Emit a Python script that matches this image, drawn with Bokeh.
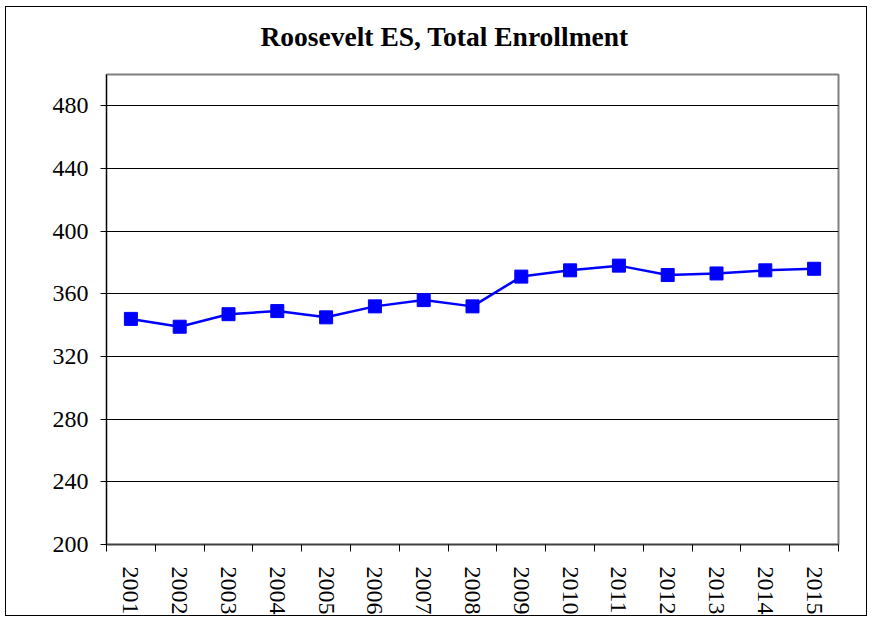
from bokeh.plotting import figure
from bokeh.models import FixedTicker, Range1d, Title
from bokeh.embed import file_html
from bokeh.resources import INLINE

years = [2001, 2002, 2003, 2004, 2005, 2006, 2007, 2008, 2009, 2010, 2011, 2012, 2013, 2014, 2015]
enrollment = [344, 339, 347, 349, 345, 352, 356, 352, 371, 375, 378, 372, 373, 375, 376]
y_ticks = [200, 240, 280, 320, 360, 400, 440, 480]
title_text = "Roosevelt ES, Total Enrollment"

FONT = "Liberation Serif"

p = figure(width=862, height=610, output_backend="svg", toolbar_location=None,
           x_range=Range1d(years[0] - 0.5, years[-1] + 0.5), y_range=Range1d(200, 500),
           min_border_left=100, min_border_right=30, min_border_top=0, min_border_bottom=73)
p.margin = (6, 0, 0, 5)
p.styles = {"border": "1px solid black"}
p.background_fill_color = "white"
p.border_fill_color = "white"
p.outline_line_color = "#808080"
p.outline_line_width = 2

p.title.text = title_text
p.title.align = "left"
p.title.offset = 154
p.title.text_font = FONT
p.title.text_font_size = "27.5px"
p.title.text_font_style = "bold"
p.title.text_color = "black"
p.title.standoff = 22

# empty spacer between title and plot frame
spacer = Title(text=" ", text_font=FONT, text_font_size="9.5px", standoff=0)
p.add_layout(spacer, "above")

p.line(years, enrollment, line_color="#0000FF", line_width=2.5)
p.scatter(years, enrollment, marker="square", size=13, fill_color="#0000FF", line_color="#0000FF")

p.xgrid.visible = False
p.ygrid.ticker = FixedTicker(ticks=y_ticks)
p.ygrid.grid_line_color = "black"
p.ygrid.grid_line_width = 1

xa = p.xaxis[0]
xa.ticker = FixedTicker(ticks=years, minor_ticks=[y - 0.5 for y in years] + [years[-1] + 0.5])
xa.major_tick_out = 0
xa.major_tick_in = 0
xa.minor_tick_out = 7
xa.minor_tick_in = 0
xa.minor_tick_line_color = "black"
xa.axis_line_color = "#404040"
xa.axis_line_width = 1.5
xa.major_label_orientation = "vertical"
xa.major_label_text_font = FONT
xa.major_label_text_font_size = "24px"
xa.major_label_text_color = "black"
xa.major_label_standoff = 15

ya = p.yaxis[0]
ya.ticker = FixedTicker(ticks=y_ticks)
ya.major_tick_out = 6
ya.major_tick_in = 0
ya.minor_tick_out = 0
ya.minor_tick_in = 0
ya.axis_line_color = "black"
ya.major_tick_line_color = "black"
ya.major_label_text_font = FONT
ya.major_label_text_font_size = "24px"
ya.major_label_text_color = "black"
ya.major_label_standoff = 12

open("out.html", "w").write(file_html(p, INLINE))
